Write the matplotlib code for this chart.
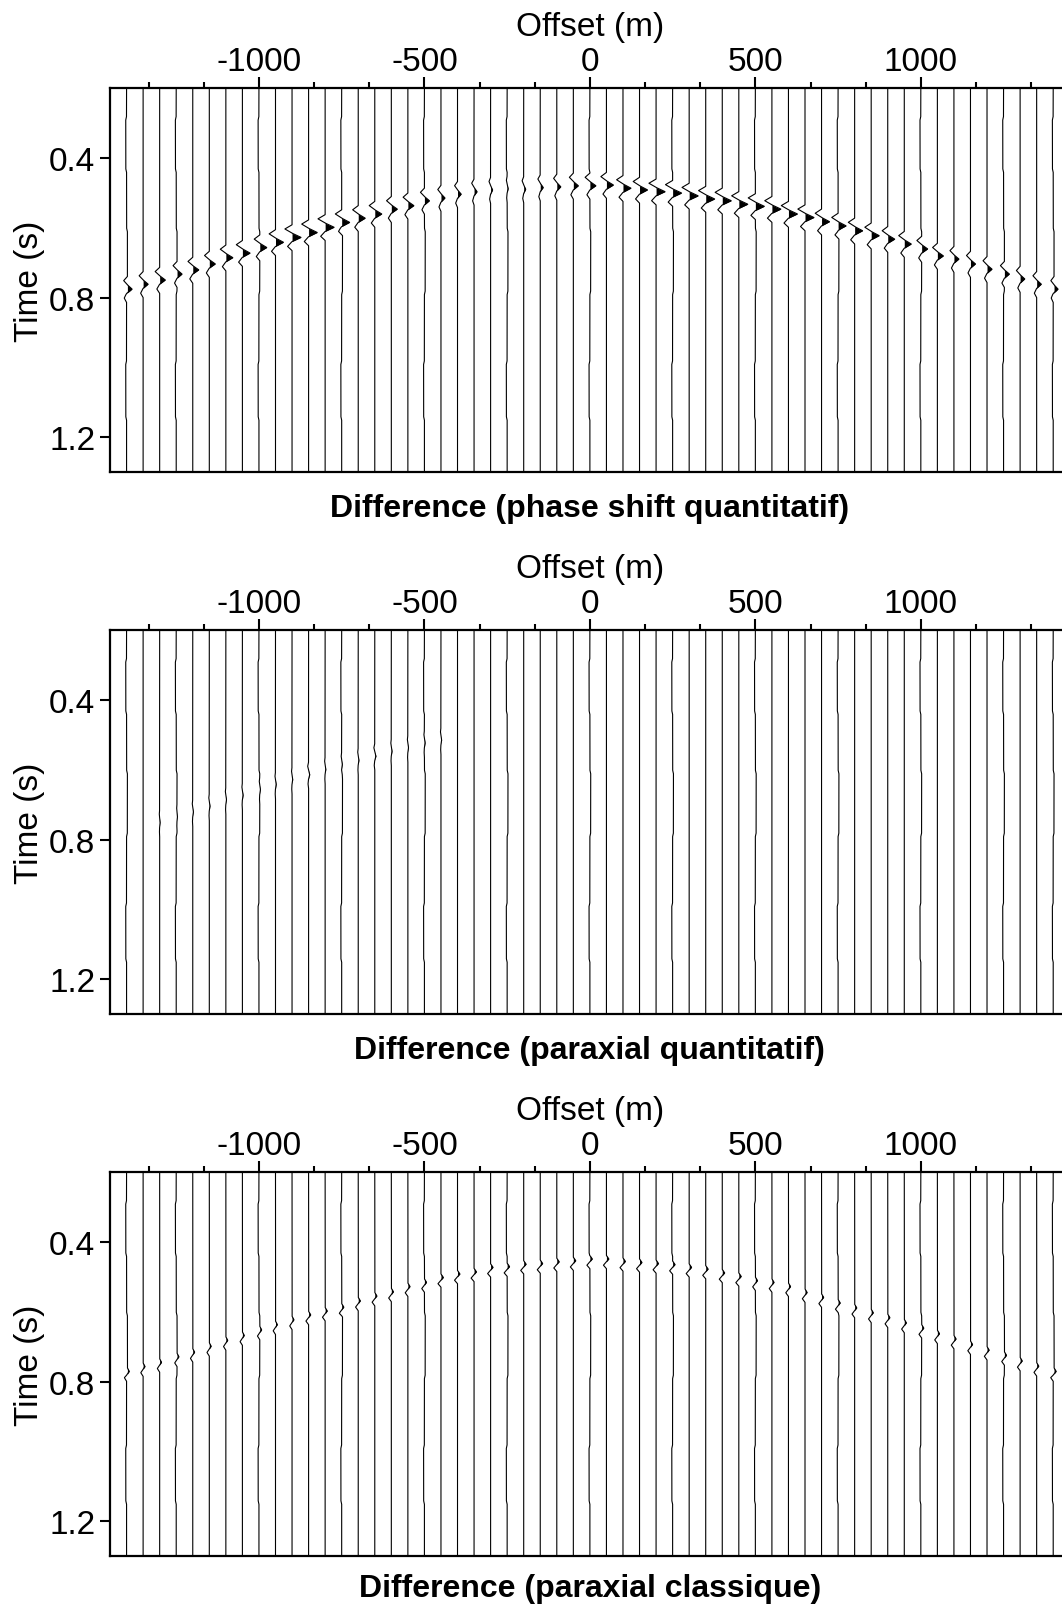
import numpy as np
import matplotlib
matplotlib.use("Agg")
import matplotlib.pyplot as plt

plt.rcParams.update({
    "font.family": ["Liberation Sans", "DejaVu Sans"],
    "font.size": 24,
    "axes.unicode_minus": False,
    "axes.linewidth": 1.6,
})

# receiver offsets (m), one trace every 50 m
offsets = list(range(-1400, 1401, 50))

# traces drawn with small residual steps (every 250 m and the two ends)
stepped_offsets = [-1400, -1250, -1000, -750, -500, -250, 0, 250, 500, 750, 1000, 1250, 1400]
residual_t = [0.20, 0.28, 0.29, 0.43, 0.44, 0.60, 0.61, 0.78, 0.79, 0.98, 0.99, 1.14, 1.15, 1.30]
residual_dx = [0, 0, -2.5, -2.5, 0, 0, 2.5, 2.5, 0, 0, -2.5, -2.5, 0, 0]

# wavelet shapes (time relative to the filled peak, relative amplitude)
wavelet_a_dt = [-0.036, -0.024, -0.012, 0.0, 0.012, 0.026, 0.038]
wavelet_a_amp = [0.0, -0.8, 0.0, 1.0, 0.0, -0.5, 0.0]
wavelet_b_dt = [-0.010, 0.0, 0.008, 0.018, 0.028]
wavelet_b_amp = [0.0, 0.8, 0.0, -1.0, 0.0]

# event time (s) of the filled lobe on each trace
t_phase = [0.775, 0.761, 0.749, 0.732, 0.720, 0.703, 0.685, 0.672, 0.656,
           0.641, 0.627, 0.613, 0.598, 0.584, 0.572, 0.560, 0.546, 0.536, 0.522,
           0.514, 0.503, 0.496, 0.491, 0.487, 0.489, 0.484, 0.482, 0.479, 0.479,
           0.477, 0.486, 0.491, 0.496, 0.500, 0.508, 0.517, 0.522, 0.532, 0.538,
           0.546, 0.560, 0.570, 0.582, 0.594, 0.608, 0.622, 0.632, 0.646, 0.660,
           0.680, 0.689, 0.703, 0.718, 0.732, 0.746, 0.761, 0.775]
t_paraxial = t_phase
t_classic = [0.770, 0.756, 0.744, 0.728, 0.715, 0.698, 0.681, 0.667, 0.651, 0.636, 0.622,
             0.608, 0.597, 0.586, 0.568, 0.554, 0.542, 0.527, 0.515,
             0.501, 0.491, 0.485, 0.472, 0.470, 0.463, 0.461, 0.456, 0.453, 0.448,
             0.448, 0.455, 0.458, 0.461, 0.464, 0.472, 0.477, 0.488, 0.498, 0.510, 0.515, 0.527,
             0.544, 0.558, 0.574, 0.588, 0.602, 0.616, 0.631, 0.646, 0.662, 0.677, 0.693,
             0.709, 0.724, 0.740, 0.755, 0.770]

# peak deflection (m of offset) of each trace
amp_phase = [14, 15, 17, 15, 18, 18, 21, 23, 21,
             24, 27, 26, 27, 24, 21, 21, 18, 18, 15,
             12, 11, 9, 6, 3, 6, 9, 12, 15, 18,
             21, 24, 24, 27, 27, 27, 27, 27, 27, 27,
             27, 27, 27, 24, 24, 24, 24, 21, 21, 18,
             18, 15, 15, 15, 15, 14, 14, 12]
amp_paraxial = [0, 0, 1.5, 1.5, 2, 2, 2, 2, 2,
                2, 2, 3.5, 2, 2, 2, 3.5, 2, 2, 2,
                2, 0, 0, 0, 0, 0, 0, 0, 0, 0,
                0, 0, 0, 0, 0, 0, 0, 0, 0, 0,
                0, 0, 0, 0, 0, 0, 0, 0, 0, 0,
                0, 0, 0, 0, 0, 0, 0, 0]
amp_classic = [7, 7, 7, 7, 7, 7, 7, 7, 7, 7, 7,
               8, 8, 8, 8, 8, 8, 8, 8,
               9, 9, 9, 9, 9, 9, 9, 9, 9, 9,
               9, 9, 9, 9, 9, 9, 9, 9, 9, 8, 8, 8,
               8, 8, 8, 8, 8, 8, 8, 8, 8, 8, 8,
               8, 8, 8, 8, 8]

titles = ["Difference (phase shift quantitatif)",
          "Difference (paraxial quantitatif)",
          "Difference (paraxial classique)"]

panels = [
    (titles[0], t_phase, amp_phase, wavelet_a_dt, wavelet_a_amp),
    (titles[1], t_paraxial, amp_paraxial, wavelet_a_dt, wavelet_a_amp),
    (titles[2], t_classic, amp_classic, wavelet_b_dt, wavelet_b_amp),
]

t = np.arange(0.2, 1.3005, 0.0005)
residual = np.interp(t, residual_t, residual_dx)

fig = plt.figure(figsize=(10.62, 16.06), dpi=100)
bottoms = [0.7053, 0.3678, 0.0303]
title_y = [-0.094, -0.094, -0.083]

for (title, times, amps, wdt, wamp), bottom, ty in zip(panels, bottoms, title_y):
    ax = fig.add_axes([0.1036, bottom, 0.9037, 0.2391])

    for x0, t0, a in zip(offsets, times, amps):
        wave = a * np.interp(t - t0, wdt, wamp, left=0.0, right=0.0)
        base = x0 + (residual if x0 in stepped_offsets else 0.0)
        ax.plot(base + wave, t, color="k", lw=0.8)
        ax.fill_betweenx(t, base, base + wave, where=wave > 0,
                         color="k", lw=0, interpolate=True)

    ax.set_xlim(-1450, 1450)
    ax.set_ylim(1.3, 0.2)

    ax.xaxis.set_ticks_position("top")
    ax.xaxis.set_label_position("top")
    ax.set_xticks([-1000, -500, 0, 500, 1000])
    ax.set_xticks([k * 500 / 3 for k in range(-8, 9) if k % 3 != 0], minor=True)
    ax.set_yticks([0.4, 0.8, 1.2])
    ax.set_yticklabels(["0.4", "0.8", "1.2"])
    ax.tick_params(which="major", length=8, width=1.5, pad=0)
    ax.tick_params(which="minor", length=4, width=1.5)
    ax.tick_params(axis="y", length=7.5, pad=3)

    ax.set_xlabel("Offset (m)")
    ax.xaxis.set_label_coords(0.5, 1.14)
    ax.set_ylabel("Time (s)")
    ax.yaxis.set_label_coords(-0.068, 0.5)

    ax.text(0.5, ty, title, transform=ax.transAxes, ha="center", va="center",
            fontweight="bold", fontsize=23)

fig.savefig("out.png", dpi=100)
